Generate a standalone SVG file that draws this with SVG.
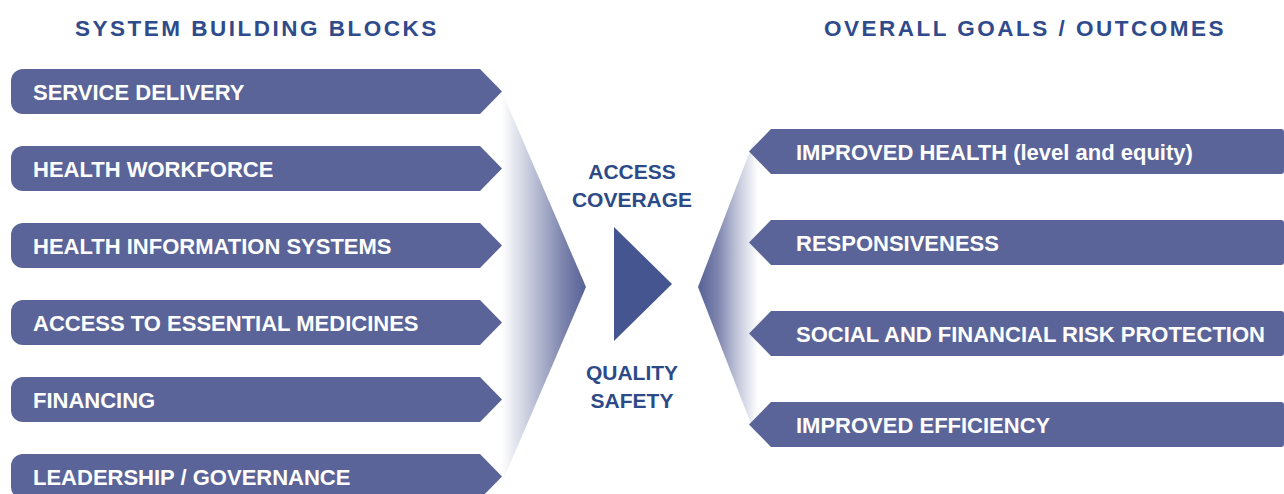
<svg xmlns="http://www.w3.org/2000/svg" width="1284" height="494" viewBox="0 0 1284 494">
  <defs>
    <style>
      .head { font-family: "Liberation Sans", Arial, sans-serif; font-weight: bold; font-size: 22.5px; fill: #2f4b8b; letter-spacing: 2.5px; }
      .mid { font-family: "Liberation Sans", Arial, sans-serif; font-weight: bold; font-size: 21px; fill: #2d4a88; text-anchor: middle; }
      .lbl { font-family: "Liberation Sans", Arial, sans-serif; font-weight: bold; font-size: 22px; fill: #ffffff; }
      .box { fill: #5a6498; }
    </style>
    <!-- block pointing right, rounded on the left -->
    <path id="blockR" d="M23 0 H480 L502 22.5 L480 45 H23 A12 12 0 0 1 11 33 V12 A12 12 0 0 1 23 0 Z"/>
    <!-- block pointing left, flat-ended on the right -->
    <path id="blockL" d="M771 0 H1281 A3 3 0 0 1 1284 3 V42 A3 3 0 0 1 1281 45 H771 L749 22.5 Z"/>
    <linearGradient id="fadeIn" gradientUnits="userSpaceOnUse" x1="502" y1="0" x2="584" y2="0">
      <stop offset="0" stop-color="#ffffff"/>
      <stop offset="0.35" stop-color="#c3c7da"/>
      <stop offset="0.75" stop-color="#7c84ad"/>
      <stop offset="1" stop-color="#5a6498"/>
    </linearGradient>
    <linearGradient id="fadeOut" gradientUnits="userSpaceOnUse" x1="700" y1="0" x2="758" y2="0">
      <stop offset="0" stop-color="#5a6498"/>
      <stop offset="0.3" stop-color="#7c84ad"/>
      <stop offset="0.65" stop-color="#c3c7da"/>
      <stop offset="1" stop-color="#ffffff"/>
    </linearGradient>
  </defs>

  <rect width="1284" height="494" fill="#ffffff"/>

  <!-- column headings -->
  <text class="head" x="75" y="35.5">SYSTEM BUILDING BLOCKS</text>
  <text class="head" x="824" y="35.5">OVERALL GOALS / OUTCOMES</text>

  <!-- converging and diverging funnels with the central arrow -->
  <g id="connectors">
    <polygon points="482,92 502,92 586,287 497,494 482,494" fill="url(#fadeIn)"/>
    <polygon points="758,130 698,287 758,442 775,442 775,130" fill="url(#fadeOut)"/>
    <polygon points="614,227 672,284 614,341" fill="#44558f"/>
  </g>

  <g id="center-labels">
    <text class="mid" x="632" y="179">ACCESS</text>
    <text class="mid" x="632" y="207">COVERAGE</text>
    <text class="mid" x="632" y="380">QUALITY</text>
    <text class="mid" x="632" y="408">SAFETY</text>
  </g>

  <!-- building blocks -->
  <g id="service-delivery" transform="translate(0,69)">
    <use href="#blockR" class="box"/>
    <text class="lbl" x="33" y="31">SERVICE DELIVERY</text>
  </g>
  <g id="health-workforce" transform="translate(0,146)">
    <use href="#blockR" class="box"/>
    <text class="lbl" x="33" y="31">HEALTH WORKFORCE</text>
  </g>
  <g id="health-information" transform="translate(0,223)">
    <use href="#blockR" class="box"/>
    <text class="lbl" x="33" y="31">HEALTH INFORMATION SYSTEMS</text>
  </g>
  <g id="essential-medicines" transform="translate(0,300)">
    <use href="#blockR" class="box"/>
    <text class="lbl" x="33" y="31">ACCESS TO ESSENTIAL MEDICINES</text>
  </g>
  <g id="financing" transform="translate(0,377)">
    <use href="#blockR" class="box"/>
    <text class="lbl" x="33" y="31">FINANCING</text>
  </g>
  <g id="leadership" transform="translate(0,454)">
    <use href="#blockR" class="box"/>
    <text class="lbl" x="33" y="31">LEADERSHIP / GOVERNANCE</text>
  </g>

  <!-- goals / outcomes -->
  <g id="improved-health" transform="translate(0,129)">
    <use href="#blockL" class="box"/>
    <text class="lbl" x="796" y="31">IMPROVED HEALTH (level and equity)</text>
  </g>
  <g id="responsiveness" transform="translate(0,220)">
    <use href="#blockL" class="box"/>
    <text class="lbl" x="796" y="31">RESPONSIVENESS</text>
  </g>
  <g id="risk-protection" transform="translate(0,311)">
    <use href="#blockL" class="box"/>
    <text class="lbl" x="796" y="31">SOCIAL AND FINANCIAL RISK PROTECTION</text>
  </g>
  <g id="efficiency" transform="translate(0,402)">
    <use href="#blockL" class="box"/>
    <text class="lbl" x="796" y="31">IMPROVED EFFICIENCY</text>
  </g>
</svg>
